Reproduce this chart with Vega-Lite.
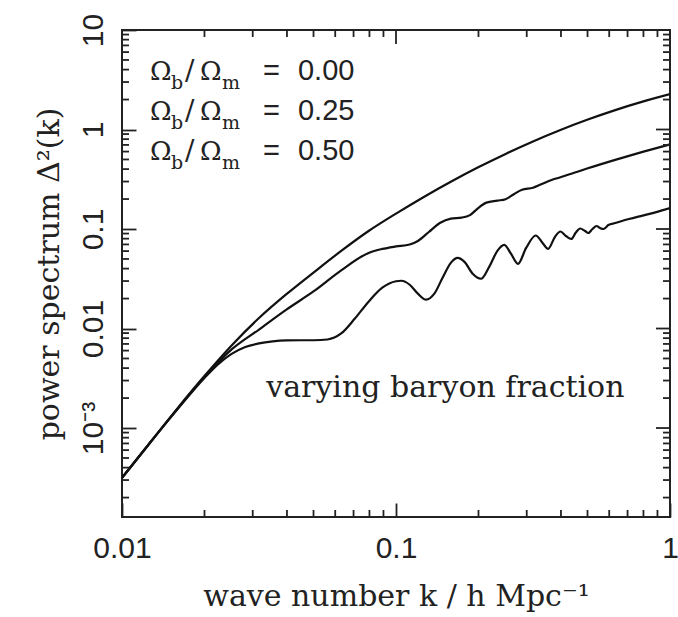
{
  "$schema": "https://vega.github.io/schema/vega-lite/v6.json",
  "width": 548,
  "height": 487,
  "autosize": {"type": "none"},
  "padding": {"left": 122, "top": 30, "right": 8, "bottom": 100},
  "background": "white",
  "config": {
    "view": {"stroke": "#222", "strokeWidth": 2},
    "axis": {
      "domain": false,
      "grid": false,
      "ticks": true,
      "zindex": 1,
      "tickColor": "#222",
      "tickWidth": 1.8,
      "labelColor": "#222",
      "labelFont": "Liberation Sans",
      "labelFontSize": 30,
      "titleFont": "DejaVu Serif",
      "titleFontSize": 30,
      "titleFontWeight": "normal",
      "titleColor": "#222",
      "labelFlush": false,
      "labelOverlap": false
    }
  },
  "datasets": {
    "curves": [
      {"series": "0.00", "k": 0.01, "P": 0.0003162},
      {"series": "0.00", "k": 0.01259, "P": 0.0006998},
      {"series": "0.00", "k": 0.01585, "P": 0.001549},
      {"series": "0.00", "k": 0.01995, "P": 0.003311},
      {"series": "0.00", "k": 0.02512, "P": 0.006761},
      {"series": "0.00", "k": 0.03162, "P": 0.01274},
      {"series": "0.00", "k": 0.03981, "P": 0.02213},
      {"series": "0.00", "k": 0.05012, "P": 0.03673},
      {"series": "0.00", "k": 0.0631, "P": 0.06026},
      {"series": "0.00", "k": 0.07943, "P": 0.0955},
      {"series": "0.00", "k": 0.1, "P": 0.1429},
      {"series": "0.00", "k": 0.1259, "P": 0.2089},
      {"series": "0.00", "k": 0.1585, "P": 0.2985},
      {"series": "0.00", "k": 0.1995, "P": 0.4169},
      {"series": "0.00", "k": 0.2512, "P": 0.5689},
      {"series": "0.00", "k": 0.3162, "P": 0.7586},
      {"series": "0.00", "k": 0.3981, "P": 0.9886},
      {"series": "0.00", "k": 0.5012, "P": 1.259},
      {"series": "0.00", "k": 0.631, "P": 1.567},
      {"series": "0.00", "k": 0.7943, "P": 1.905},
      {"series": "0.00", "k": 1.0, "P": 2.265},
      {"series": "0.25", "k": 0.01, "P": 0.0003162},
      {"series": "0.25", "k": 0.01259, "P": 0.0006998},
      {"series": "0.25", "k": 0.01585, "P": 0.001531},
      {"series": "0.25", "k": 0.01995, "P": 0.003236},
      {"series": "0.25", "k": 0.02512, "P": 0.006166},
      {"series": "0.25", "k": 0.03162, "P": 0.009772},
      {"series": "0.25", "k": 0.03981, "P": 0.01549},
      {"series": "0.25", "k": 0.05012, "P": 0.02371},
      {"series": "0.25", "k": 0.0631, "P": 0.03846},
      {"series": "0.25", "k": 0.07943, "P": 0.05754},
      {"series": "0.25", "k": 0.08913, "P": 0.0631},
      {"series": "0.25", "k": 0.1, "P": 0.06683},
      {"series": "0.25", "k": 0.1122, "P": 0.06998},
      {"series": "0.25", "k": 0.1202, "P": 0.07586},
      {"series": "0.25", "k": 0.1318, "P": 0.09333},
      {"series": "0.25", "k": 0.1445, "P": 0.1148},
      {"series": "0.25", "k": 0.1585, "P": 0.1274},
      {"series": "0.25", "k": 0.1738, "P": 0.1303},
      {"series": "0.25", "k": 0.1862, "P": 0.138},
      {"series": "0.25", "k": 0.1995, "P": 0.1622},
      {"series": "0.25", "k": 0.2138, "P": 0.1841},
      {"series": "0.25", "k": 0.2344, "P": 0.1928},
      {"series": "0.25", "k": 0.2512, "P": 0.1995},
      {"series": "0.25", "k": 0.2692, "P": 0.2239},
      {"series": "0.25", "k": 0.2884, "P": 0.2483},
      {"series": "0.25", "k": 0.3162, "P": 0.26},
      {"series": "0.25", "k": 0.3388, "P": 0.2818},
      {"series": "0.25", "k": 0.3715, "P": 0.3126},
      {"series": "0.25", "k": 0.3981, "P": 0.3311},
      {"series": "0.25", "k": 0.4467, "P": 0.3673},
      {"series": "0.25", "k": 0.5012, "P": 0.4074},
      {"series": "0.25", "k": 0.631, "P": 0.4955},
      {"series": "0.25", "k": 0.7943, "P": 0.5957},
      {"series": "0.25", "k": 1.0, "P": 0.7079},
      {"series": "0.50", "k": 0.01, "P": 0.0003162},
      {"series": "0.50", "k": 0.01259, "P": 0.0006998},
      {"series": "0.50", "k": 0.01585, "P": 0.001514},
      {"series": "0.50", "k": 0.01995, "P": 0.003162},
      {"series": "0.50", "k": 0.02239, "P": 0.004365},
      {"series": "0.50", "k": 0.02512, "P": 0.005559},
      {"series": "0.50", "k": 0.02818, "P": 0.006531},
      {"series": "0.50", "k": 0.03162, "P": 0.007079},
      {"series": "0.50", "k": 0.03548, "P": 0.007413},
      {"series": "0.50", "k": 0.03981, "P": 0.007586},
      {"series": "0.50", "k": 0.04467, "P": 0.007621},
      {"series": "0.50", "k": 0.05012, "P": 0.007621},
      {"series": "0.50", "k": 0.05623, "P": 0.007762},
      {"series": "0.50", "k": 0.0631, "P": 0.008913},
      {"series": "0.50", "k": 0.07079, "P": 0.01259},
      {"series": "0.50", "k": 0.07943, "P": 0.01862},
      {"series": "0.50", "k": 0.08913, "P": 0.0257},
      {"series": "0.50", "k": 0.1, "P": 0.02985},
      {"series": "0.50", "k": 0.1047, "P": 0.0302},
      {"series": "0.50", "k": 0.1122, "P": 0.02754},
      {"series": "0.50", "k": 0.1202, "P": 0.02239},
      {"series": "0.50", "k": 0.1288, "P": 0.0195},
      {"series": "0.50", "k": 0.138, "P": 0.02239},
      {"series": "0.50", "k": 0.1479, "P": 0.03236},
      {"series": "0.50", "k": 0.1585, "P": 0.04571},
      {"series": "0.50", "k": 0.1679, "P": 0.05129},
      {"series": "0.50", "k": 0.1778, "P": 0.04677},
      {"series": "0.50", "k": 0.1905, "P": 0.03548},
      {"series": "0.50", "k": 0.2042, "P": 0.03162},
      {"series": "0.50", "k": 0.2188, "P": 0.04169},
      {"series": "0.50", "k": 0.2344, "P": 0.06026},
      {"series": "0.50", "k": 0.2483, "P": 0.06918},
      {"series": "0.50", "k": 0.263, "P": 0.05623},
      {"series": "0.50", "k": 0.2786, "P": 0.04467},
      {"series": "0.50", "k": 0.2985, "P": 0.06457},
      {"series": "0.50", "k": 0.3236, "P": 0.0861},
      {"series": "0.50", "k": 0.3428, "P": 0.07244},
      {"series": "0.50", "k": 0.3589, "P": 0.0631},
      {"series": "0.50", "k": 0.3802, "P": 0.08318},
      {"series": "0.50", "k": 0.3981, "P": 0.09441},
      {"series": "0.50", "k": 0.4169, "P": 0.08511},
      {"series": "0.50", "k": 0.4365, "P": 0.07943},
      {"series": "0.50", "k": 0.4519, "P": 0.0912},
      {"series": "0.50", "k": 0.4699, "P": 0.1012},
      {"series": "0.50", "k": 0.4898, "P": 0.0955},
      {"series": "0.50", "k": 0.5035, "P": 0.0912},
      {"series": "0.50", "k": 0.5212, "P": 0.1},
      {"series": "0.50", "k": 0.5395, "P": 0.1072},
      {"series": "0.50", "k": 0.5559, "P": 0.1023},
      {"series": "0.50", "k": 0.5715, "P": 0.1},
      {"series": "0.50", "k": 0.5957, "P": 0.1096},
      {"series": "0.50", "k": 0.631, "P": 0.1148},
      {"series": "0.50", "k": 0.7079, "P": 0.1259},
      {"series": "0.50", "k": 0.7943, "P": 0.1365},
      {"series": "0.50", "k": 0.8913, "P": 0.1479},
      {"series": "0.50", "k": 1.0, "P": 0.1622}
    ],
    "legend": [
      {"k": 0.01265, "P": 3.145, "frac": "0.00"},
      {"k": 0.01265, "P": 1.246, "frac": "0.25"},
      {"k": 0.01265, "P": 0.4937, "frac": "0.50"}
    ],
    "note": [
      {"k": 0.1514, "P": 0.00203, "text": "varying baryon fraction"}
    ],
    "xmajor": [{"k": 0.01}, {"k": 0.1}, {"k": 1}],
    "xminor": [{"k": 0.02}, {"k": 0.03}, {"k": 0.04}, {"k": 0.05}, {"k": 0.06}, {"k": 0.07}, {"k": 0.08}, {"k": 0.09}, {"k": 0.2}, {"k": 0.3}, {"k": 0.4}, {"k": 0.5}, {"k": 0.6}, {"k": 0.7}, {"k": 0.8}, {"k": 0.9}],
    "ymajor": [{"P": 0.001}, {"P": 0.01}, {"P": 0.1}, {"P": 1}, {"P": 10}],
    "yminor": [{"P": 0.0002}, {"P": 0.0003}, {"P": 0.0004}, {"P": 0.0005}, {"P": 0.0006}, {"P": 0.0007}, {"P": 0.0008}, {"P": 0.0009}, {"P": 0.002}, {"P": 0.003}, {"P": 0.004}, {"P": 0.005}, {"P": 0.006}, {"P": 0.007}, {"P": 0.008}, {"P": 0.009}, {"P": 0.02}, {"P": 0.03}, {"P": 0.04}, {"P": 0.05}, {"P": 0.06}, {"P": 0.07}, {"P": 0.08}, {"P": 0.09}, {"P": 0.2}, {"P": 0.3}, {"P": 0.4}, {"P": 0.5}, {"P": 0.6}, {"P": 0.7}, {"P": 0.8}, {"P": 0.9}, {"P": 2}, {"P": 3}, {"P": 4}, {"P": 5}, {"P": 6}, {"P": 7}, {"P": 8}, {"P": 9}]
  },
  "layer": [
    {
      "data": {"name": "curves"},
      "mark": {"type": "line", "interpolate": "monotone", "color": "#111", "strokeWidth": 2.2, "clip": true},
      "encoding": {
        "x": {
          "field": "k", "type": "quantitative",
          "scale": {"type": "log", "domain": [0.01, 1], "nice": false},
          "axis": {
            "orient": "bottom",
            "values": [0.01, 0.1, 1],
            "labelExpr": "toString(datum.value)",
            "ticks": true,
            "offset": -14,
            "tickSize": 14,
            "labelPadding": 16,
            "title": "wave number k / h Mpc⁻¹",
            "titlePadding": 18
          }
        },
        "y": {
          "field": "P", "type": "quantitative",
          "scale": {"type": "log", "domain": [0.0001276, 10], "nice": false},
          "axis": {
            "orient": "left",
            "values": [0.001, 0.01, 0.1, 1, 10],
            "labelExpr": "datum.value < 0.005 ? '10⁻³' : toString(datum.value)",
            "ticks": true,
            "offset": -14,
            "tickSize": 14,
            "labelAngle": 270,
            "labelFontSize": 30,
            "labelAlign": "center",
            "labelBaseline": "alphabetic",
            "labelPadding": 20,
            "title": "power spectrum Δ²(k)",
            "titlePadding": 14
          }
        },
        "detail": {"field": "series", "type": "nominal"}
      }
    },
    {
      "data": {"name": "xminor"},
      "mark": {"type": "tick", "orient": "vertical", "size": 7, "thickness": 1.8, "color": "#222", "opacity": 1, "yOffset": -3.5},
      "encoding": {"x": {"field": "k", "type": "quantitative"}, "y": {"datum": 0.0001276}}
    },
    {
      "data": {"name": "xminor"},
      "mark": {"type": "tick", "orient": "vertical", "size": 7, "thickness": 1.8, "color": "#222", "opacity": 1, "yOffset": 3.5},
      "encoding": {"x": {"field": "k", "type": "quantitative"}, "y": {"datum": 10}}
    },
    {
      "data": {"name": "xmajor"},
      "mark": {"type": "tick", "orient": "vertical", "size": 14, "thickness": 1.8, "color": "#222", "opacity": 1, "yOffset": 7},
      "encoding": {"x": {"field": "k", "type": "quantitative"}, "y": {"datum": 10}}
    },
    {
      "data": {"name": "yminor"},
      "mark": {"type": "tick", "orient": "horizontal", "size": 7, "thickness": 1.8, "color": "#222", "opacity": 1, "xOffset": 3.5},
      "encoding": {"y": {"field": "P", "type": "quantitative"}, "x": {"datum": 0.01}}
    },
    {
      "data": {"name": "yminor"},
      "mark": {"type": "tick", "orient": "horizontal", "size": 7, "thickness": 1.8, "color": "#222", "opacity": 1, "xOffset": -3.5},
      "encoding": {"y": {"field": "P", "type": "quantitative"}, "x": {"datum": 1}}
    },
    {
      "data": {"name": "ymajor"},
      "mark": {"type": "tick", "orient": "horizontal", "size": 14, "thickness": 1.8, "color": "#222", "opacity": 1, "xOffset": -7},
      "encoding": {"y": {"field": "P", "type": "quantitative"}, "x": {"datum": 1}}
    },
    {
      "data": {"name": "note"},
      "mark": {"type": "text", "font": "DejaVu Serif", "fontSize": 30, "align": "center", "baseline": "alphabetic", "color": "#222"},
      "encoding": {
        "x": {"field": "k", "type": "quantitative"},
        "y": {"field": "P", "type": "quantitative"},
        "text": {"field": "text", "type": "nominal"}
      }
    },
    {
      "data": {"name": "legend"},
      "mark": {"type": "text", "text": "Ω", "font": "DejaVu Serif", "fontSize": 26, "align": "left", "baseline": "alphabetic", "dx": 0, "color": "#222"},
      "encoding": {"x": {"field": "k", "type": "quantitative"}, "y": {"field": "P", "type": "quantitative"}}
    },
    {
      "data": {"name": "legend"},
      "mark": {"type": "text", "text": "b", "font": "DejaVu Serif", "fontSize": 19, "align": "left", "baseline": "alphabetic", "dx": 21, "dy": 9, "color": "#222"},
      "encoding": {"x": {"field": "k", "type": "quantitative"}, "y": {"field": "P", "type": "quantitative"}}
    },
    {
      "data": {"name": "legend"},
      "mark": {"type": "text", "text": "/", "font": "DejaVu Serif", "fontSize": 28, "align": "left", "baseline": "alphabetic", "dx": 35, "color": "#222"},
      "encoding": {"x": {"field": "k", "type": "quantitative"}, "y": {"field": "P", "type": "quantitative"}}
    },
    {
      "data": {"name": "legend"},
      "mark": {"type": "text", "text": "Ω", "font": "DejaVu Serif", "fontSize": 26, "align": "left", "baseline": "alphabetic", "dx": 50, "color": "#222"},
      "encoding": {"x": {"field": "k", "type": "quantitative"}, "y": {"field": "P", "type": "quantitative"}}
    },
    {
      "data": {"name": "legend"},
      "mark": {"type": "text", "text": "m", "font": "DejaVu Serif", "fontSize": 19, "align": "left", "baseline": "alphabetic", "dx": 72, "dy": 9, "color": "#222"},
      "encoding": {"x": {"field": "k", "type": "quantitative"}, "y": {"field": "P", "type": "quantitative"}}
    },
    {
      "data": {"name": "legend"},
      "mark": {"type": "text", "text": "=", "font": "Liberation Sans", "fontSize": 29, "align": "left", "baseline": "alphabetic", "dx": 113, "color": "#222"},
      "encoding": {"x": {"field": "k", "type": "quantitative"}, "y": {"field": "P", "type": "quantitative"}}
    },
    {
      "data": {"name": "legend"},
      "mark": {"type": "text", "font": "Liberation Sans", "fontSize": 29, "align": "left", "baseline": "alphabetic", "dx": 148, "color": "#222"},
      "encoding": {
        "x": {"field": "k", "type": "quantitative"},
        "y": {"field": "P", "type": "quantitative"},
        "text": {"field": "frac", "type": "nominal"}
      }
    }
  ]
}
